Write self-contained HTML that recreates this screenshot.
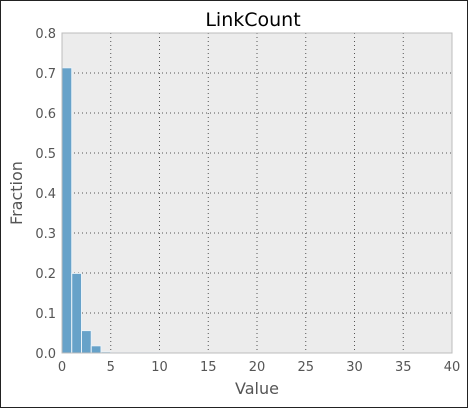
<!DOCTYPE html>
<html><head><meta charset="utf-8"><style>
body{margin:0;background:#fff;}
svg{display:block;font-family:"DejaVu Sans","Liberation Sans",sans-serif;}
</style></head><body>
<svg id="chart" width="468" height="408">
<rect x="0.5" y="0.5" width="467" height="407" fill="#fff" stroke="#222"/>
<rect x="62" y="33" width="390" height="320" fill="#ececec"/>
<g id="grid"></g>
<g id="bars"></g>
<rect x="62" y="33" width="390" height="320" fill="none" stroke="#bcbcbc"/>
<g id="ticks"></g>
<text x="253" y="26" text-anchor="middle" font-size="19" fill="#000">LinkCount</text>
<text x="257" y="394" text-anchor="middle" font-size="16" fill="#555">Value</text>
<text transform="translate(22,193) rotate(-90)" text-anchor="middle" font-size="16" fill="#555">Fraction</text>
</svg>
<script>
const binStarts=[0,1,2,3,4,5,6,7,8,9];
const fractions=[0.713,0.199,0.056,0.018,0.003,0.001,0.001,0.001,0.001,0.001];
const xTicks=[0,5,10,15,20,25,30,35,40];
const yTicks=[0,0.1,0.2,0.3,0.4,0.5,0.6,0.7,0.8];
const X0=62,X1=452,Y0=353,Y1=33;
const sx=v=>X0+(v-0)/(40-0)*(X1-X0);
const sy=v=>Y0-(v-0)/(0.8-0)*(Y0-Y1);
const NS="http://www.w3.org/2000/svg";
const mk=(t,a,p)=>{const e=document.createElementNS(NS,t);for(const k in a)e.setAttribute(k,a[k]);p.appendChild(e);return e;};
const grid=document.getElementById('grid'),bars=document.getElementById('bars'),ticks=document.getElementById('ticks');
xTicks.forEach(v=>{
  if(v>0&&v<40){const l=mk('line',{x1:sx(v),x2:sx(v),y1:Y1,y2:Y0,stroke:'#555','stroke-width':1,'stroke-dasharray':'1,3'},grid);
  
  }
  const t=mk('text',{x:sx(v),y:Y0+18,'text-anchor':'middle','font-size':13,fill:'#555'},ticks);t.textContent=v;
  
  
});
yTicks.forEach(v=>{
  if(v>0&&v<0.8){const l=mk('line',{x1:X0,x2:X1,y1:sy(v),y2:sy(v),stroke:'#555','stroke-width':1,'stroke-dasharray':'1,3'},grid);
  
  }
  const t=mk('text',{x:X0-6,y:sy(v)+5,'text-anchor':'end','font-size':13,fill:'#555'},ticks);t.textContent=v.toFixed(1);
  
  
});
binStarts.forEach((b,i)=>{
  const y=sy(fractions[i]);
  const r=mk('rect',{x:sx(b),y:y,width:sx(b+1)-sx(b),height:Y0-y,fill:'#67a2c9',stroke:'#eaf2f8','stroke-width':1},bars);
  
  
});
</script>
</body></html>
